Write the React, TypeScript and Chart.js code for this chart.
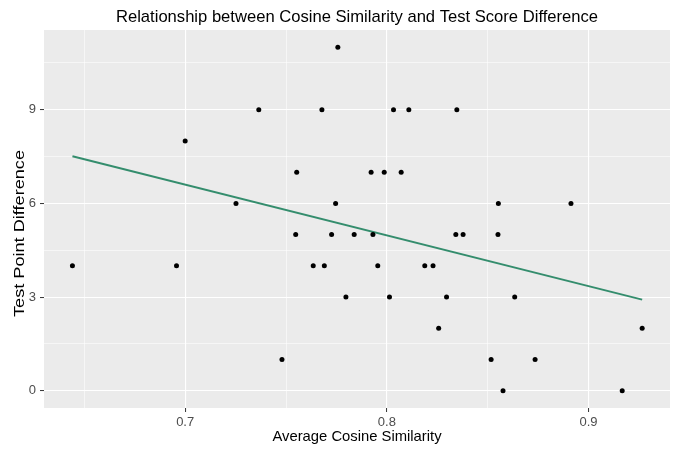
import React, { useEffect, useRef } from "react";
import { Chart, registerables } from "chart.js";

Chart.register(...registerables);

const cosineSimilarity = [
  0.6441, 0.6957, 0.7, 0.7252, 0.7365, 0.748, 0.7548, 0.7553, 0.7635, 0.7678,
  0.769, 0.7726, 0.7746, 0.7757, 0.7797, 0.7838, 0.7922, 0.7931, 0.7955, 0.7987,
  0.8013, 0.8033, 0.8071, 0.8109, 0.8188, 0.8229, 0.8257, 0.8296, 0.8342, 0.8347,
  0.8378, 0.8517, 0.8551, 0.8553, 0.8576, 0.8634, 0.8735, 0.8913, 0.9167, 0.9266,
];
const pointDifference = [
  4, 4, 8, 6, 9, 1, 5, 7, 4, 9,
  4, 5, 6, 11, 3, 5, 7, 5, 4, 7,
  3, 9, 7, 9, 4, 4, 2, 3, 5, 9,
  5, 1, 5, 6, 0, 3, 1, 6, 0, 2,
];
const fitX = [0.6441, 0.9266];
const fitY = [7.51, 2.92];

const xMajorTicks = [0.7, 0.8, 0.9];
const xMinorTicks = [0.65, 0.75, 0.85];
const yMajorTicks = [0, 3, 6, 9];
const yMinorTicks = [1.5, 4.5, 7.5, 10.5];

const TITLE = "Relationship between Cosine Similarity and Test Score Difference";
const X_TITLE = "Average Cosine Similarity";
const Y_TITLE = "Test Point Difference";
const FONT = "'Liberation Sans', Arial, sans-serif";

const isMajor = (list: number[], v: number) => list.some((m) => Math.abs(m - v) < 1e-9);

export default function App() {
  const ref = useRef<HTMLCanvasElement | null>(null);
  useEffect(() => {
    if (!ref.current) return;
    const panelPlugin = {
      id: "panel",
      beforeDraw(chart: any) {
        const { ctx, chartArea: a } = chart;
        ctx.save();
        ctx.fillStyle = "#EBEBEB";
        ctx.fillRect(a.left, a.top, a.right - a.left, a.bottom - a.top);
        ctx.restore();
      },
      afterDraw(chart: any) {
        const { ctx, chartArea: a } = chart;
        ctx.save();
        ctx.fillStyle = "#000000";
        ctx.textAlign = "center";
        ctx.textBaseline = "middle";
        ctx.font = `16.6px ${FONT}`;
        ctx.fillText(TITLE, (a.left + a.right) / 2, 17);
        ctx.font = `14.8px ${FONT}`;
        ctx.fillText(X_TITLE, (a.left + a.right) / 2, 437);
        ctx.translate(20, 233.5);
        ctx.rotate(-Math.PI / 2);
        const w = ctx.measureText(Y_TITLE).width;
        ctx.scale(167 / w, 1);
        ctx.fillText(Y_TITLE, 0, 0);
        ctx.restore();
      },
    };
    const chart = new Chart(ref.current, {
      type: "scatter",
      data: {
        datasets: [
          {
            data: cosineSimilarity.map((x, i) => ({ x, y: pointDifference[i] })),
            backgroundColor: "#000000",
            borderColor: "#000000",
            pointRadius: 2.5,
            borderWidth: 0,
          },
          {
            type: "line",
            data: fitX.map((x, i) => ({ x, y: fitY[i] })),
            borderColor: "#348D6D",
            borderWidth: 1.9,
            pointRadius: 0,
            showLine: true,
            fill: false,
          } as any,
        ],
      },
      options: {
        animation: false,
        responsive: false,
        events: [],
        layout: { padding: { left: 0, right: 3, top: 30, bottom: 0 } },
        plugins: { legend: { display: false }, tooltip: { enabled: false }, title: { display: false } },
        scales: {
          x: {
            type: "linear",
            min: 0.63,
            max: 0.9404,
            afterBuildTicks: (s: any) => {
              s.ticks = [...xMinorTicks, ...xMajorTicks].sort((a, b) => a - b).map((v) => ({ value: v }));
            },
            afterFit: (s: any) => {
              s.height = 41;
            },
            border: { display: false },
            grid: {
              color: "#FFFFFF",
              lineWidth: (c: any) => (isMajor(xMajorTicks, c.tick.value) ? 1.1 : 0.55),
              tickColor: (c: any) => (isMajor(xMajorTicks, c.tick.value) ? "#333333" : "rgba(0,0,0,0)"),
              tickLength: 4,
              tickWidth: 1,
              drawTicks: true,
            },
            ticks: {
              autoSkip: false,
              maxRotation: 0,
              padding: 3,
              color: "#4D4D4D",
              font: { family: FONT, size: 13 },
              callback: (v: any) => (isMajor(xMajorTicks, Number(v)) ? String(Number(v)) : ""),
            },
          },
          y: {
            type: "linear",
            min: -0.55,
            max: 11.55,
            afterBuildTicks: (s: any) => {
              s.ticks = [...yMajorTicks, ...yMinorTicks].sort((a, b) => a - b).map((v) => ({ value: v }));
            },
            afterFit: (s: any) => {
              s.width = 44;
            },
            border: { display: false },
            grid: {
              color: "#FFFFFF",
              lineWidth: (c: any) => (isMajor(yMajorTicks, c.tick.value) ? 1.1 : 0.55),
              tickColor: (c: any) => (isMajor(yMajorTicks, c.tick.value) ? "#333333" : "rgba(0,0,0,0)"),
              tickLength: 4,
              tickWidth: 1,
              drawTicks: true,
            },
            ticks: {
              autoSkip: false,
              padding: 4,
              color: "#4D4D4D",
              font: { family: FONT, size: 13 },
              callback: (v: any) => (isMajor(yMajorTicks, Number(v)) ? String(Number(v)) : ""),
            },
          },
        },
      },
      plugins: [panelPlugin],
    });
    return () => chart.destroy();
  }, []);
  return (
    <div style={{ position: "fixed", left: 0, top: 0, width: 674, height: 449, background: "#FFFFFF" }}>
      <canvas ref={ref} width={674} height={449} style={{ width: 674, height: 449, display: "block" }} />
    </div>
  );
}
